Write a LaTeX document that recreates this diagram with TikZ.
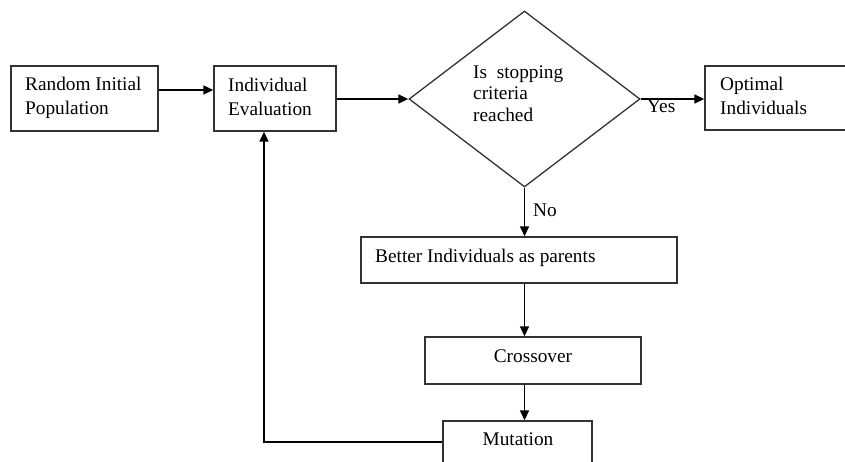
\documentclass[tikz,border=0pt]{standalone}
\usepackage{fontspec}
\setmainfont{Liberation Serif}
\usetikzlibrary{shapes.geometric,arrows.meta}
\begin{document}
\begin{tikzpicture}[x=1pt,y=-1pt,
  box/.style={draw=black!80,line width=1.4pt,rectangle,inner sep=0pt},
  txt/.style={inner sep=0pt,anchor=base west,font=\fontsize{19.3}{23}\selectfont},
  arr/.style={line width=1.6pt,-{Triangle[length=10pt,width=9pt]}}]
\useasboundingbox (0,0) rectangle (845,462);
\clip (0,0) rectangle (845,462);

% boxes
\node[box,minimum width=147pt,minimum height=65pt] (init) at (84.5,98.5) {};
\node[box,minimum width=122pt,minimum height=65pt] (eval) at (275,98.5) {};
\node[draw=black!80,line width=1.3pt,diamond,inner sep=0pt,
      minimum width=231pt,minimum height=176pt] (stop) at (524.5,99) {};
\node[box,minimum width=165pt,minimum height=64pt] (opt) at (787.5,98) {};
\node[box,minimum width=316pt,minimum height=46pt] (par) at (519,260) {};
\node[box,minimum width=216pt,minimum height=47pt] (cross) at (533,360.5) {};
\node[box,minimum width=149pt,minimum height=60pt] (mut) at (517.5,451) {};

% texts
\node[txt] (t1) at (25,91) {Random Initial};
\node[txt] (t2) at (25,115) {Population};
\node[txt] (t3) at (228,92) {Individual};
\node[txt] (t4) at (228,116) {Evaluation};
\node[txt] (t5) at (473,79) {Is\ \ stopping};
\node[txt] (t6) at (473,100) {criteria};
\node[txt] (t7) at (473,122) {reached};
\node[txt] (t8) at (720,91) {Optimal};
\node[txt] (t9) at (720,115) {Individuals};
\node[txt] (t10) at (375,262) {Better Individuals as parents};
\node[txt,anchor=base] (t11) at (533,362) {Crossover};
\node[txt,anchor=base] (t12) at (518,445) {Mutation};
\node[txt] (yes) at (647,113) {Yes};
\node[txt] (no) at (533,217) {No};

% connectors
\coordinate (back) at (264,442);
\draw[arr] ([yshift=8.5pt]init.east) -- ([yshift=8.5pt]init.east -| eval.west);
\draw[arr] (stop.west -| eval.east) -- (stop.west);
\draw[arr] (stop.east) -- (stop.east -| opt.west);
\draw[arr] (stop.south) -- (stop.south |- par.north);
\draw[arr] (stop.south |- par.south) -- (stop.south |- cross.north);
\draw[arr] (stop.south |- cross.south) -- (stop.south |- mut.north);
\draw[arr] (back -| mut.west) -- (back) -- (back |- eval.south);
\end{tikzpicture}
\end{document}
